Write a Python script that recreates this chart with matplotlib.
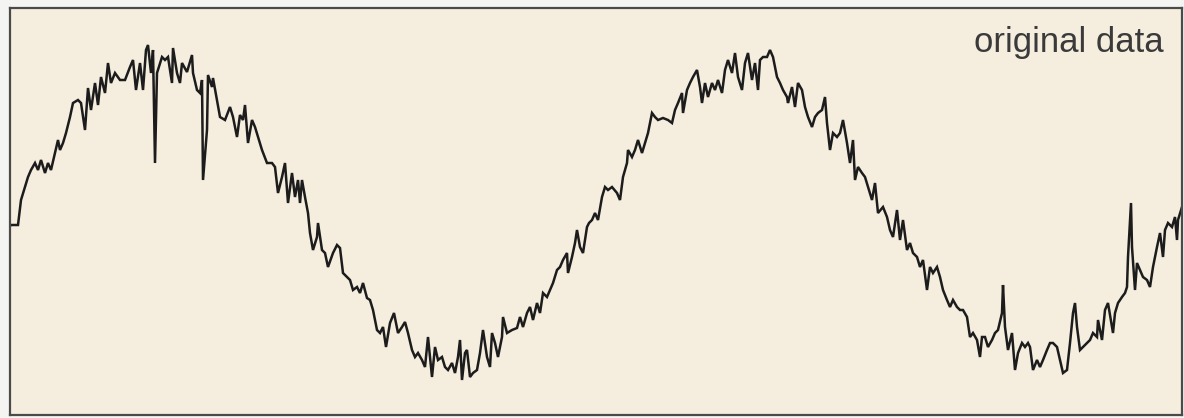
import matplotlib
matplotlib.use("Agg")
import matplotlib.pyplot as plt

# sample position along the record
t = [0, 1, 8, 11, 15, 18, 21, 25, 28, 31, 35, 38, 41, 45, 48, 50, 53, 56, 60, 63,
     68, 71, 75, 78, 81, 85, 88, 91, 95, 98, 101, 105, 110, 115, 120, 123, 126, 130, 133, 136,
     138, 141, 143, 145, 147, 152, 155, 158, 162, 163, 167, 170, 172, 177, 182, 183, 187, 190, 192, 193,
     197, 198, 202, 203, 207, 210, 215, 220, 223, 227, 230, 233, 235, 238, 242, 245, 248, 252, 257, 262,
     265, 268, 272, 275, 278, 282, 285, 288, 290, 292, 295, 298, 300, 303, 307, 308, 312, 315, 318, 323,
     327, 330, 333, 337, 340, 343, 347, 350, 353, 357, 360, 363, 367, 370, 373, 376, 380, 384, 388, 392,
     395, 398, 402, 405, 408, 412, 415, 418, 422, 425, 428, 432, 435, 438, 442, 445, 448, 450, 452, 455,
     457, 460, 463, 467, 470, 473, 477, 480, 482, 485, 488, 492, 493, 497, 502, 507, 510, 513, 517, 520,
     523, 527, 530, 533, 537, 540, 543, 547, 550, 553, 557, 558, 562, 565, 567, 570, 573, 577, 579, 582,
     585, 588, 592, 595, 598, 602, 607, 610, 613, 617, 618, 622, 625, 628, 632, 635, 638, 642, 645, 648,
     653, 658, 662, 665, 668, 672, 673, 677, 680, 683, 687, 690, 692, 695, 698, 702, 705, 708, 712, 715,
     718, 722, 725, 728, 732, 735, 738, 742, 745, 748, 750, 753, 757, 760, 763, 767, 770, 773, 777, 778,
     782, 785, 788, 792, 795, 798, 802, 805, 808, 812, 815, 817, 820, 823, 827, 830, 833, 837, 840, 843,
     845, 848, 852, 855, 858, 862, 865, 868, 873, 877, 880, 883, 887, 890, 893, 897, 900, 903, 907, 910,
     913, 917, 920, 923, 927, 930, 933, 937, 940, 943, 947, 950, 953, 957, 960, 963, 967, 970, 972, 975,
     978, 982, 985, 988, 992, 993, 995, 998, 1002, 1005, 1008, 1012, 1015, 1018, 1020, 1023, 1027, 1030, 1033, 1037,
     1040, 1043, 1047, 1050, 1053, 1057, 1060, 1063, 1065, 1067, 1070, 1073, 1077, 1080, 1083, 1087, 1088, 1092, 1095, 1098,
     1102, 1103, 1105, 1108, 1112, 1115, 1117, 1118, 1121, 1122, 1125, 1127, 1130, 1133, 1137, 1140, 1143, 1147, 1150, 1153,
     1155, 1158, 1162, 1165, 1167, 1168, 1172]

# measured level
level = [189, 190, 190, 215, 228, 238, 245, 252, 245, 255, 242, 252, 245, 262, 275, 265, 272, 282, 298, 312,
         315, 312, 285, 327, 305, 332, 310, 338, 322, 352, 332, 342, 335, 335, 348, 355, 325, 352, 325, 365,
         370, 342, 365, 252, 342, 358, 355, 358, 332, 367, 342, 332, 352, 343, 360, 342, 325, 322, 335, 235,
         285, 340, 328, 337, 315, 298, 295, 308, 298, 278, 300, 295, 310, 272, 295, 288, 278, 265, 252, 252,
         248, 222, 238, 252, 212, 242, 218, 235, 212, 235, 218, 202, 182, 165, 178, 192, 165, 162, 148, 162,
         170, 167, 142, 138, 135, 125, 128, 122, 132, 117, 115, 105, 85, 82, 88, 68, 92, 102, 82, 88,
         93, 82, 65, 58, 62, 55, 48, 78, 38, 68, 55, 58, 48, 45, 52, 42, 58, 75, 35, 62,
         65, 38, 42, 45, 62, 85, 58, 48, 82, 72, 58, 78, 98, 82, 85, 87, 98, 88, 102, 108,
         95, 112, 102, 122, 118, 125, 132, 145, 148, 155, 162, 142, 158, 172, 185, 168, 162, 188, 192, 195,
         202, 195, 218, 228, 225, 228, 222, 215, 238, 252, 265, 258, 265, 275, 262, 272, 282, 302, 298, 295,
         297, 295, 292, 305, 312, 322, 302, 325, 332, 338, 345, 328, 312, 332, 318, 332, 325, 335, 322, 345,
         355, 342, 362, 338, 325, 352, 362, 335, 352, 325, 355, 358, 358, 365, 358, 338, 332, 325, 318, 312,
         328, 308, 332, 325, 308, 298, 288, 298, 302, 305, 318, 292, 265, 282, 278, 282, 295, 272, 252, 275,
         235, 248, 242, 238, 228, 215, 232, 202, 208, 198, 185, 178, 205, 175, 195, 165, 172, 162, 158, 148,
         155, 125, 148, 142, 148, 138, 125, 115, 108, 115, 108, 105, 105, 98, 78, 82, 75, 58, 78, 78,
         68, 75, 82, 85, 102, 130, 88, 65, 82, 45, 62, 72, 68, 72, 68, 45, 55, 48, 55, 65,
         72, 72, 68, 55, 42, 45, 72, 102, 112, 88, 65, 68, 72, 75, 82, 78, 95, 75, 105, 112,
         88, 82, 102, 112, 118, 122, 128, 158, 212, 168, 125, 152, 145, 138, 135, 128, 148, 168, 182, 158,
         185, 192, 188, 198, 175, 195, 208]

fig = plt.figure(figsize=(11.84, 4.18), dpi=100)
fig.patch.set_facecolor("#f4f4f2")
ax = fig.add_axes([10 / 1184, 3 / 418, 1172 / 1184, 407 / 418])
ax.set_facecolor("#f5eedf")

ax.plot(t, level, color="#1c1c1c", lw=1.8, solid_joinstyle="miter")

ax.set_xlim(0, 1172)
ax.set_ylim(0, 407)
ax.set_xticks([])
ax.set_yticks([])
for side in ax.spines.values():
    side.set_color("#4a4a4a")
    side.set_linewidth(1.6)

ax.text(0.984, 0.892, "original data", transform=ax.transAxes,
        ha="right", va="baseline", fontsize=25, color="#3a3a3a",
        family="Liberation Sans")

fig.savefig("out.png", dpi=100, facecolor=fig.get_facecolor())
